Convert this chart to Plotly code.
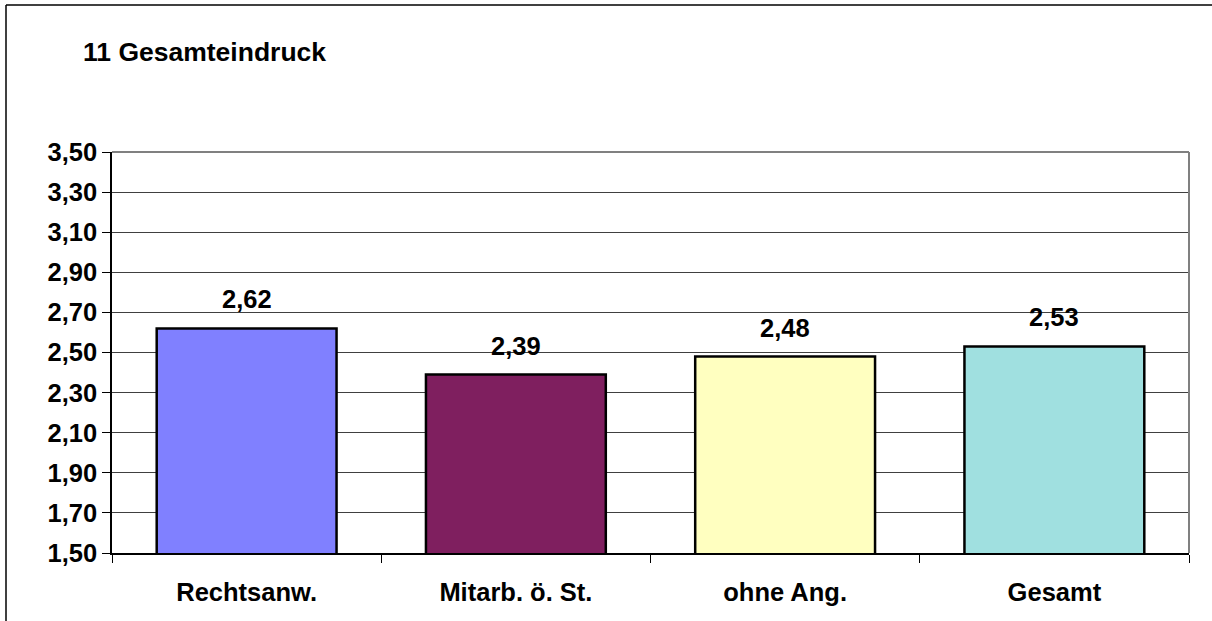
import plotly.graph_objects as go

categories = ["Rechtsanw.", "Mitarb. ö. St.", "ohne Ang.", "Gesamt"]
values = [2.62, 2.39, 2.48, 2.53]
colors = ["#8080FF", "#7F1F5F", "#FFFFC0", "#A0E0E0"]
tick_vals = [1.5, 1.7, 1.9, 2.1, 2.3, 2.5, 2.7, 2.9, 3.1, 3.3, 3.5]
title_text = "11 Gesamteindruck"

W, H = 1212, 621
L, R, T, B = 112, 1189, 152, 553
pw, ph = R - L, B - T

FONT = "Liberation Sans, Arial, sans-serif"
FS = 25.5

fig = go.Figure()
fig.add_trace(go.Bar(
    x=categories, y=values, base=0,
    marker=dict(color=colors, line=dict(color="black", width=2.5)),
    width=0.668, showlegend=False, hoverinfo="skip",
))

for c, v in zip(categories, values):
    fig.add_annotation(x=c, y=v, text=f"{v:.2f}".replace(".", ","),
                       showarrow=False, yanchor="bottom", yshift=13,
                       font=dict(family=FONT, size=FS, color="black", weight="bold"))

fig.add_annotation(xref="paper", yref="paper", x=(81 - L) / pw, y=1 + (T - 52) / ph,
                   xanchor="left", yanchor="middle", showarrow=False,
                   text=title_text,
                   font=dict(family=FONT, size=26.5, color="black", weight="bold"))

# outer frame (left and top visible)
fx = (6 - L) / pw
fy = (B - 5) / ph
fig.add_shape(type="line", xref="paper", yref="paper",
              x0=fx, x1=fx, y0=(B - 700) / ph, y1=fy,
              line=dict(color="black", width=1.5))
fig.add_shape(type="line", xref="paper", yref="paper",
              x0=fx, x1=(1300 - L) / pw, y0=fy, y1=fy,
              line=dict(color="black", width=1.5))
# plot area top and right border (grey)
fig.add_shape(type="line", xref="paper", yref="paper", x0=0, x1=1, y0=1, y1=1,
              line=dict(color="#808080", width=2))
fig.add_shape(type="line", xref="paper", yref="paper", x0=1, x1=1, y0=0, y1=1,
              line=dict(color="#808080", width=2))

fig.update_layout(
    width=W, height=H,
    margin=dict(l=L, r=W - R, t=T, b=H - B, autoexpand=False),
    paper_bgcolor="white", plot_bgcolor="white",
    separators=",.",
    font=dict(family=FONT, color="black"),
    xaxis=dict(
        type="category", showgrid=False, showline=True, linecolor="black", linewidth=1.5,
        ticks="outside", tickson="boundaries", ticklen=8, tickcolor="black", tickwidth=1,
        tickfont=dict(family=FONT, size=FS, color="black", weight="bold"),
        ticklabelstandoff=16, automargin=False,
        range=[-0.5, 3.5], fixedrange=True,
    ),
    yaxis=dict(
        range=[1.5, 3.5], tickvals=tick_vals, tickformat=".2f",
        showgrid=True, gridcolor="#404040", gridwidth=1,
        showline=True, linecolor="black", linewidth=1.5,
        ticks="outside", ticklen=8, tickcolor="black", tickwidth=1,
        tickfont=dict(family=FONT, size=FS, color="black", weight="bold"),
        zeroline=False, fixedrange=True, automargin=False,
    ),
)

fig.write_html("out.html", config={"displayModeBar": False},
               post_script="document.body.style.margin='0';document.body.style.overflow='hidden';")
